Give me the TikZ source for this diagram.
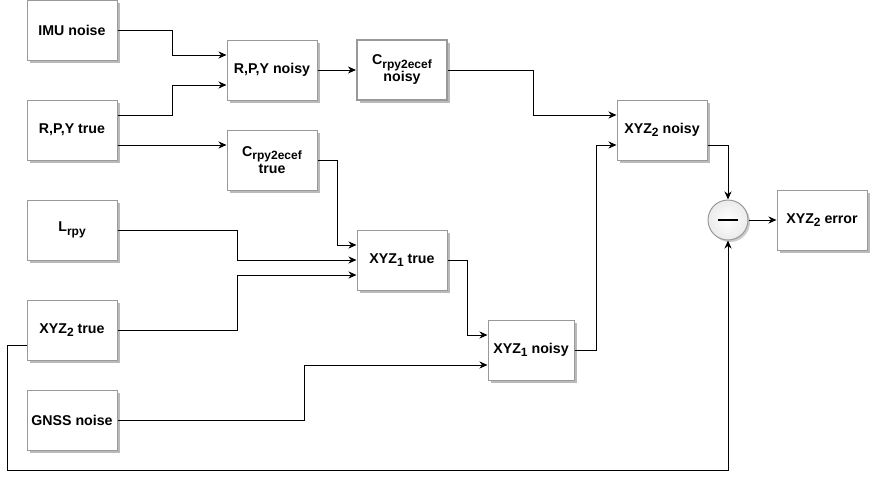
\documentclass[tikz,border=0pt]{standalone}
\usepackage{fontspec}
\setmainfont{Liberation Sans}
\usetikzlibrary{arrows.meta,shadows,positioning}
\newcommand\sbs[1]{\raisebox{-3.5pt}{\fontsize{12}{10}\selectfont #1}}
\tikzset{
  boxnode/.style={draw=black!40, line width=1pt, fill=white, minimum width=90pt, minimum height=60pt,
    inner sep=2pt, align=center, font=\fontsize{14.2}{17}\selectfont\bfseries,
    drop shadow={shadow xshift=3pt, shadow yshift=-3pt, fill=black!27, opacity=1}},
  arr/.style={draw=black, line width=1pt, -{Stealth[length=8pt,width=7pt,inset=2.5pt]}},
}
\begin{document}
\begin{tikzpicture}[x=1pt,y=-1pt]
\useasboundingbox (0,0) rectangle (880,479);
\node[boxnode] (imu) at (72,30) {IMU noise};
\node[boxnode] (rpyt) at (72,130) {R,P,Y true};
\node[boxnode] (lrpy) at (72,230) {L\sbs{rpy}};
\node[boxnode] (xyz2t) at (72,330) {XYZ\sbs{2} true};
\node[boxnode] (gnss) at (72,420) {GNSS noise};
\node[boxnode] (rpyn) at (272,70) {R,P,Y noisy};
\node[boxnode] (crpyt) at (272,160) {C\sbs{rpy2ecef}\\true};
\node[boxnode, line width=2pt] (cn) at (402,70) {C\sbs{rpy2ecef}\\noisy};
\node[boxnode] (xyz1t) at (402,260) {XYZ\sbs{1} true};
\node[boxnode, minimum width=86pt] (xyz1n) at (531,350) {XYZ\sbs{1} noisy};
\node[boxnode] (xyz2n) at (662,130) {XYZ\sbs{2} noisy};
\node[boxnode] (err) at (822,220) {XYZ\sbs{2} error};
\node[circle, draw=black!40, line width=1pt, minimum size=40pt, inner sep=0pt,
      inner color=white, outer color=black!8,
      drop shadow={shadow xshift=2pt, shadow yshift=-2pt, fill=black!20, opacity=1}]
      (minus) at (728,220) {\rule{20pt}{2.6pt}};

\draw[arr] (imu.east) -- ++(55,0) |- ([yshift=15pt]rpyn.west);
\draw[arr] ([yshift=15pt]rpyt.east) -- ++(55,0) |- ([yshift=-15pt]rpyn.west);
\draw[arr] ([yshift=-15pt]rpyt.east) -- ([yshift=15pt]crpyt.west);
\draw[arr] (rpyn) -- (cn);
\draw[arr] (cn.east) -- ++(85,0) |- ([yshift=15pt]xyz2n.west);
\draw[arr] (crpyt.east) -- ++(20,0) |- ([yshift=15pt]xyz1t.west);
\draw[arr] (lrpy.east) -- ++(120,0) |- (xyz1t.west);
\draw[arr] (xyz2t.east) -- ++(120,0) |- ([yshift=-15pt]xyz1t.west);
\draw[arr] (xyz1t.east) -- ++(20,0) |- ([yshift=15pt]xyz1n.west);
\draw[arr] (gnss.east) -- ++(187,0) |- ([yshift=-15pt]xyz1n.west);
\draw[arr] (xyz1n.east) -- ++(22,0) |- ([yshift=-15pt]xyz2n.west);
\draw[arr] ([yshift=-15pt]xyz2n.east) -| (minus.north);
\draw[arr] (minus) -- (err);
\draw[arr] ([yshift=-15pt]xyz2t.west) -- ++(-19,0) -- ++(0,125) -| (minus.south);
\end{tikzpicture}
\end{document}
